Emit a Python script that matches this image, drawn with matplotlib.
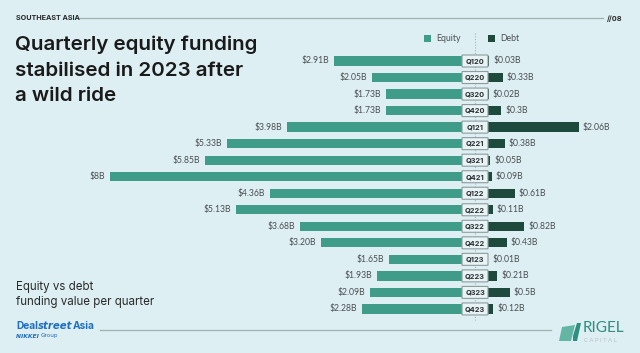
import matplotlib
matplotlib.use("Agg")
import matplotlib.pyplot as plt
from matplotlib.patches import Rectangle, FancyBboxPatch, Polygon
from matplotlib.lines import Line2D

quarters = ["Q120", "Q220", "Q320", "Q420", "Q121", "Q221", "Q321", "Q421",
            "Q122", "Q222", "Q322", "Q422", "Q123", "Q223", "Q323", "Q423"]
equity = [2.91, 2.05, 1.73, 1.73, 3.98, 5.33, 5.85, 8.0,
          4.36, 5.13, 3.68, 3.20, 1.65, 1.93, 2.09, 2.28]
debt = [0.03, 0.33, 0.02, 0.3, 2.06, 0.38, 0.05, 0.09,
        0.61, 0.11, 0.82, 0.43, 0.01, 0.21, 0.5, 0.12]
equity_labels = ["$2.91B", "$2.05B", "$1.73B", "$1.73B", "$3.98B", "$5.33B", "$5.85B", "$8B",
                 "$4.36B", "$5.13B", "$3.68B", "$3.20B", "$1.65B", "$1.93B", "$2.09B", "$2.28B"]
debt_labels = ["$0.03B", "$0.33B", "$0.02B", "$0.3B", "$2.06B", "$0.38B", "$0.05B", "$0.09B",
               "$0.61B", "$0.11B", "$0.82B", "$0.43B", "$0.01B", "$0.21B", "$0.5B", "$0.12B"]

BG = "#ddeff3"
EQ = "#3f9c88"
DB = "#1d4a3d"
TXT = "#1a1a1a"
LBL = "#4a4f52"

W, H = 640, 353
fig = plt.figure(figsize=(W / 100, H / 100), dpi=100, facecolor=BG)
ax = fig.add_axes([0, 0, 1, 1])
ax.set_facecolor(BG)
ax.axis("off")

ppu = 44.0      # pixels per $B
cx = 475.0      # center pixel x
row0, rstep = 61.0, 16.53
ax.set_xlim(-cx / ppu, (W - cx) / ppu)
ax.set_ylim((H - row0) / rstep, -row0 / rstep)

half = 13.0 / ppu   # half box width in data units
bh = 0.56
ys = list(range(len(quarters)))

# center dotted line
ax.plot([0, 0], [(33 - row0) / rstep, (320 - row0) / rstep], color="#a9b5b7",
        lw=0.8, ls=(0, (1, 1.5)), zorder=1)

ax.barh(ys, [-e for e in equity], left=-half, height=bh, color=EQ, zorder=2)
ax.barh(ys, debt, left=half, height=bh, color=DB, zorder=2)

lab_font = dict(fontsize=6.2, color=LBL, family="Lato")
for y, e, d, el, dl, q in zip(ys, equity, debt, equity_labels, debt_labels, quarters):
    ax.text(-half - e - 5 / ppu, y, el, ha="right", va="center", **lab_font)
    ax.text(half + d + 4 / ppu, y, dl, ha="left", va="center", **lab_font)
    bw, bhh = 2 * half, 12.0 / rstep
    box = FancyBboxPatch((-half, y - bhh / 2), bw, bhh,
                         boxstyle="round,pad=0,rounding_size=0.03",
                         facecolor="#e8f3f5", edgecolor="#8e9c9d", lw=0.8, zorder=3,
                         mutation_aspect=1 / 2.6)
    ax.add_patch(box)
    ax.text(0, y + 0.02, q, ha="center", va="center", fontsize=5.3,
            fontweight="bold", color="#2b2f31", family="Inter", zorder=4)


def fx(px):
    return px / W


def fy(py):
    return 1 - py / H


# legend
fig.patches.append(Rectangle((fx(424), fy(42)), 7 / W, 7 / H, transform=fig.transFigure,
                             facecolor=EQ, edgecolor="none"))
fig.text(fx(436), fy(38.5), "Equity", fontsize=6.3, color=LBL, va="center", family="Lato")
fig.patches.append(Rectangle((fx(488), fy(42)), 7 / W, 7 / H, transform=fig.transFigure,
                             facecolor=DB, edgecolor="none"))
fig.text(fx(500), fy(38.5), "Debt", fontsize=6.3, color=LBL, va="center", family="Lato")

# header
fig.text(fx(16), fy(18.5), "SOUTHEAST ASIA", fontsize=5.2, fontweight="bold",
         color="#2a2a2a", va="center", family="Inter")
fig.add_artist(Line2D([fx(78), fx(603)], [fy(17.5), fy(17.5)], color="#a0b0ad", lw=0.9))
fig.text(fx(607), fy(18.5), "//08", fontsize=5.3, fontweight="bold",
         color="#2a2a2a", va="center", family="Inter")

# title
for py, line in [(45, "Quarterly equity funding"), (71, "stabilised in 2023 after"),
                 (96, "a wild ride")]:
    fig.text(fx(15), fy(py), line, fontsize=14.8, fontweight="semibold",
             color=TXT, va="center", family="Inter")

# subtitle
fig.text(fx(16), fy(287), "Equity vs debt", fontsize=8.3, color="#2a2a2a", va="center",
         family="Inter")
fig.text(fx(16), fy(302), "funding value per quarter", fontsize=8.3, color="#2a2a2a",
         va="center", family="Inter")

# footer: chained texts
renderer = fig.canvas.get_renderer()


def chain(x0, py, parts):
    x = x0
    for s, kw in parts:
        t = fig.text(fx(x), fy(py), s, va="center", **kw)
        bb = t.get_window_extent(renderer)
        x += bb.width
    return x


BLUE = "#1f6fc0"
chain(16, 326, [("Deal", dict(fontsize=7.3, fontweight="bold", color=BLUE, family="Inter")),
                ("street", dict(fontsize=7.3, fontweight="bold", style="italic", color=BLUE,
                                family="DejaVu Sans")),
                ("Asia", dict(fontsize=7.3, fontweight="bold", color=BLUE, family="Inter"))])
chain(16, 336, [("NIKKEI ", dict(fontsize=4.3, fontweight="bold", style="italic", color=BLUE,
                                 family="DejaVu Sans")),
                ("Group", dict(fontsize=4.3, color=BLUE, family="Inter"))])
fig.add_artist(Line2D([fx(100), fx(551)], [fy(329.5), fy(329.5)], color="#a0b0ad", lw=0.9))

# Rigel logo
fig.patches.append(Polygon([(fx(559), fy(341)), (fx(562), fy(327)), (fx(575), fy(325)),
                            (fx(571), fy(341))], closed=True, transform=fig.transFigure,
                           facecolor="#63b6a4", edgecolor="none"))
fig.patches.append(Polygon([(fx(573), fy(336)), (fx(577), fy(323)), (fx(581), fy(323)),
                            (fx(577), fy(341)), (fx(573), fy(341))], closed=True,
                           transform=fig.transFigure, facecolor="#2f8f80", edgecolor="none"))
fig.text(fx(583), fy(328), "RIGEL", fontsize=11, color="#2f8f80", va="center", family="Lato")
fig.text(fx(584), fy(340), "C A P I T A L", fontsize=4.3, color="#b7c2c3", va="center",
         family="Lato")

fig.savefig("out.png", dpi=100, facecolor=BG)
